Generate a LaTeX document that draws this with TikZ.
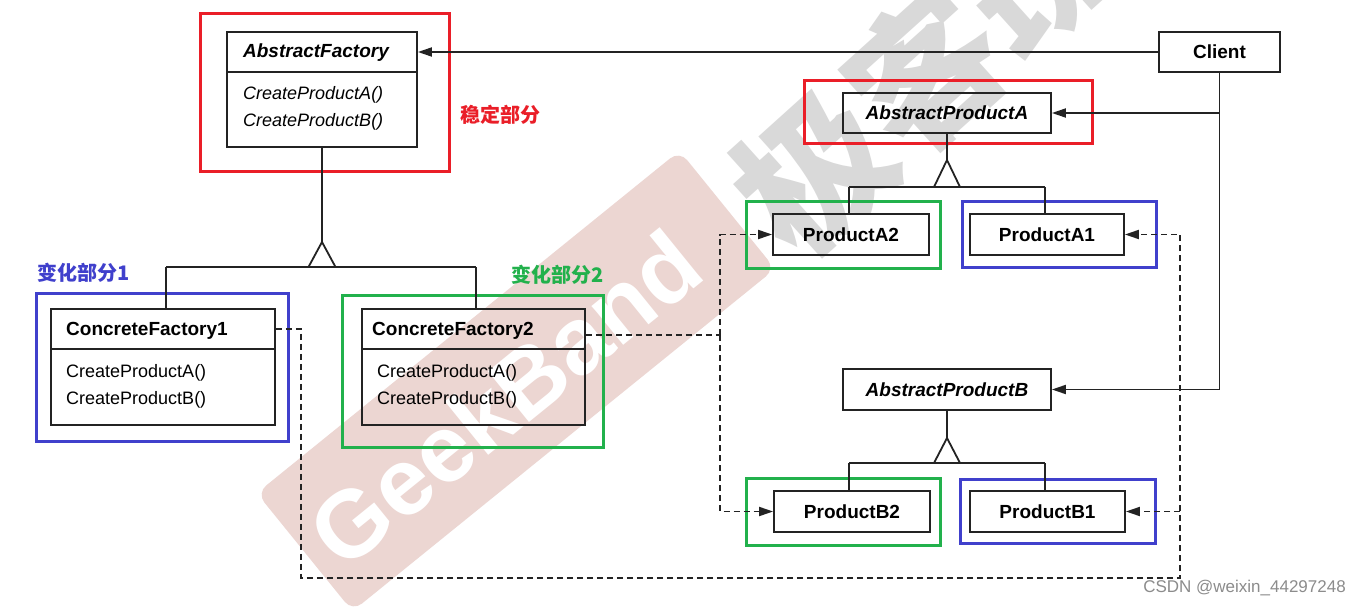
\documentclass[tikz,border=0pt]{standalone}
\usepackage{fontspec}
\setmainfont{Liberation Sans}
\newfontfamily\cjk{Noto Sans CJK SC}
\usetikzlibrary{arrows.meta}
\definecolor{fred}{RGB}{234,30,40}
\definecolor{fblue}{RGB}{64,64,204}
\definecolor{fgreen}{RGB}{34,177,76}
\definecolor{bandc}{RGB}{236,214,210}
\definecolor{ink}{RGB}{35,35,35}
\begin{document}
\begin{tikzpicture}[x=1pt,y=-1pt,
  cls/.style={draw=ink, line width=1.8pt, rectangle, inner sep=0pt},
  ln/.style={draw=ink, line width=1.8pt},
  dsh/.style={draw=ink, line width=1.8pt, dash pattern=on 6pt off 4pt},
  arr/.style={-{Triangle[length=14pt,width=9pt]}},
  frame/.style={line width=3pt},
  ctitle/.style={font=\fontsize{19}{22}\selectfont\bfseries, inner sep=0pt},
  atitle/.style={font=\fontsize{19}{22}\selectfont\bfseries\itshape, inner sep=0pt},
  meth/.style={font=\fontsize{18}{21}\selectfont, anchor=west, inner sep=0pt},
  ameth/.style={font=\fontsize{18}{21}\selectfont\itshape, anchor=west, inner sep=0pt},
  lbl/.style={font=\cjk\fontsize{20}{24}\selectfont\bfseries, inner sep=0pt, anchor=west}
]
\useasboundingbox (0,0) rectangle (1361,607);
\fill[white] (0,0) rectangle (1361,607);

% watermarks
\node[fill=bandc, rotate=39, minimum width=544pt, minimum height=152pt, rounded corners=12pt, inner sep=0pt] (band) at (516,381) {};
\node[rotate=39, text=white, font=\fontsize{95}{100}\selectfont\bfseries, inner sep=0pt] (gb) at (505,398) {GeekBand};
\node[rotate=42, text=black!15, font=\cjk\fontsize{150}{160}\selectfont\bfseries, inner sep=0pt] (jkb) at (925,70) {极客班};

% colored frames
\draw[frame, fred] (200,14) rectangle (449,172);
\draw[frame, fred] (804,81) rectangle (1092,144);
\draw[frame, fblue] (36,293) rectangle (288,441);
\draw[frame, fgreen] (342,295) rectangle (603,447);
\draw[frame, fgreen] (746,202) rectangle (940,268);
\draw[frame, fblue] (962,202) rectangle (1156,267);
\draw[frame, fgreen] (746,478) rectangle (940,545);
\draw[frame, fblue] (960,479) rectangle (1155,543);

% labels
\node[lbl, text=fred] (l1) at (460,115) {稳定部分};
\node[lbl, text=fblue] (l2) at (37,273) {变化部分1};
\node[lbl, text=fgreen] (l3) at (511,275) {变化部分2};

% AbstractFactory
\node[cls, minimum width=190pt, minimum height=115pt] (af) at (322,89.5) {};
\draw[ln] (227,72) -- (417,72);
\node[atitle] (aft) at (316,53) {AbstractFactory};
\node[ameth] (afm1) at (243,95) {CreateProductA()};
\node[ameth] (afm2) at (243,122) {CreateProductB()};

% Client
\node[cls, minimum width=121pt, minimum height=40pt, ctitle] (cl) at (1219.5,52) {Client};

% ConcreteFactory1
\node[cls, minimum width=224pt, minimum height=116pt] (cf1) at (163,367) {};
\draw[ln] (51,349) -- (275,349);
\node[ctitle, anchor=west] (cf1t) at (66,331) {ConcreteFactory1};
\node[meth] (cf1m1) at (66,373) {CreateProductA()};
\node[meth] (cf1m2) at (66,400) {CreateProductB()};

% ConcreteFactory2
\node[cls, minimum width=223pt, minimum height=116pt] (cf2) at (473.5,367) {};
\draw[ln] (362,349) -- (585,349);
\node[ctitle, anchor=west] (cf2t) at (372,331) {ConcreteFactory2};
\node[meth] (cf2m1) at (377,373) {CreateProductA()};
\node[meth] (cf2m2) at (377,400) {CreateProductB()};

% Products
\node[cls, minimum width=208pt, minimum height=40pt, atitle] (apa) at (947,113) {AbstractProductA};
\node[cls, minimum width=156pt, minimum height=41pt, ctitle] (pa2) at (851,234.5) {ProductA2};
\node[cls, minimum width=154pt, minimum height=41pt, ctitle] (pa1) at (1047,234.5) {ProductA1};
\node[cls, minimum width=208pt, minimum height=41pt, atitle] (apb) at (947,389.5) {AbstractProductB};
\node[cls, minimum width=156pt, minimum height=41pt, ctitle] (pb2) at (852,511.5) {ProductB2};
\node[cls, minimum width=155pt, minimum height=41pt, ctitle] (pb1) at (1047.5,511.5) {ProductB1};

% inheritance: factories
\coordinate (t1) at (322,242);
\coordinate (b1l) at (166,267);
\coordinate (b1r) at (476,267);
\draw[ln] (af.south) -- (t1);
\draw[ln, fill=white, line join=miter] (t1) -- (308.5,267) -- (335.5,267) -- cycle;
\draw[ln] (b1l) -- (b1r);
\draw[ln] (b1l) -- (b1l |- cf1.north);
\draw[ln] (b1r) -- (b1r |- cf2.north);

% inheritance: products A
\coordinate (t2) at (947,160);
\coordinate (b2l) at (849,187);
\coordinate (b2r) at (1045,187);
\draw[ln] (apa.south) -- (t2);
\draw[ln, fill=white, line join=miter] (t2) -- (934,187) -- (960,187) -- cycle;
\draw[ln] (b2l) -- (b2r);
\draw[ln] (b2l) -- (b2l |- pa2.north);
\draw[ln] (b2r) -- (b2r |- pa1.north);

% inheritance: products B
\coordinate (t3) at (947,438);
\coordinate (b3l) at (849,463);
\coordinate (b3r) at (1045,463);
\draw[ln] (apb.south) -- (t3);
\draw[ln, fill=white, line join=miter] (t3) -- (934,463) -- (960,463) -- cycle;
\draw[ln] (b3l) -- (b3r);
\draw[ln] (b3l) -- (b3l |- pb2.north);
\draw[ln] (b3r) -- (b3r |- pb1.north);

% client associations
\draw[ln, arr] (cl.west) -- (cl.west -| af.east);
\draw[ln] (cl.south) -- (cl.south |- apb.east);
\draw[ln, arr] (cl.south |- apa.east) -- (apa.east);
\draw[ln, arr] (cl.south |- apb.east) -- (apb.east);

% dashed creation lines
\coordinate (d1) at (301,329);
\coordinate (d2) at (301,578);
\coordinate (d3) at (1180,578);
\coordinate (d4) at (1180,234.5);
\coordinate (d5) at (1180,511.5);
\draw[dsh, arr] (cf1.east |- d1) -- (d1) -- (d2) -- (d3) -- (d4) -- (pa1.east);
\draw[dsh, arr] (d5) -- (pb1.east);

\coordinate (e1) at (720,335);
\coordinate (e2) at (720,234.5);
\coordinate (e3) at (720,511.5);
\draw[dsh] (cf2.east |- e1) -- (e1);
\draw[dsh, arr] (e1) -- (e2) -- (pa2.west);
\draw[dsh, arr] (e1) -- (e3) -- (pb2.west);

% footer
\node[text=black!45, font=\fontsize{17}{20}\selectfont, anchor=east, inner sep=0pt] (csdn) at (1346,588) {CSDN @weixin\_44297248};
\end{tikzpicture}
\end{document}
